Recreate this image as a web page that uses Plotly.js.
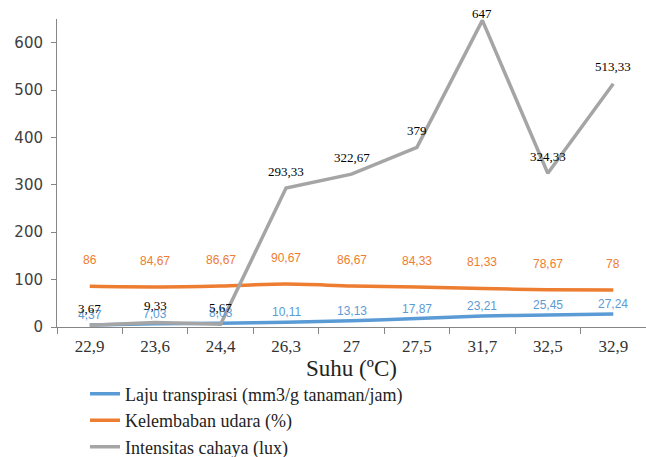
<!DOCTYPE html>
<html>
<head>
<meta charset="utf-8">
<script src="https://cdn.plot.ly/plotly-3.0.1.min.js"></script>
<style>
  html, body { margin: 0; padding: 0; background: #fff; }
  #chart { width: 646px; height: 457px; }
</style>
</head>
<body>
<div id="chart"></div>
<script>
const suhu = ["22,9", "23,6", "24,4", "26,3", "27", "27,5", "31,7", "32,5", "32,9"];
const lajuTranspirasi = [4.37, 7.03, 8.03, 10.11, 13.13, 17.87, 23.21, 25.45, 27.24];
const kelembabanUdara = [86, 84.67, 86.67, 90.67, 86.67, 84.33, 81.33, 78.67, 78];
const intensitasCahaya = [3.67, 9.33, 5.67, 293.33, 322.67, 379, 647, 324.33, 513.33];

const seriesNames = ["Laju transpirasi (mm3/g tanaman/jam)", "Kelembaban udara (%)", "Intensitas cahaya (lux)"];

const BLUE = "#5B9BD5", ORANGE = "#ED7D31", GRAY = "#A5A5A5";
const Y_MAX = 650;
const fmt = v => String(v).replace(".", ",");

const traces = [
  { x: suhu, y: lajuTranspirasi, name: seriesNames[0], type: "scatter", mode: "lines",
    line: { color: BLUE, width: 3.5, shape: "spline", smoothing: 0.8 } },
  { x: suhu, y: kelembabanUdara, name: seriesNames[1], type: "scatter", mode: "lines",
    line: { color: ORANGE, width: 3.5, shape: "spline", smoothing: 0.8 } },
  { x: suhu, y: intensitasCahaya, name: seriesNames[2], type: "scatter", mode: "lines",
    line: { color: GRAY, width: 3.5 } }
];

// data labels placed on the category axis by category index;
// a label that would leave the top of the chart is pulled down toward its point
function labels(ys, color, shift, family, size) {
  return ys.map((v, i) => ({
    x: i, y: v, xref: "x", yref: "y", text: fmt(v), showarrow: false,
    yanchor: "middle", yshift: Math.min(shift, (Y_MAX - v) * 0.47 + 6),
    font: { family: family, size: size, color: color }
  }));
}

const annotations = []
  .concat(labels(lajuTranspirasi, BLUE, 10, "Liberation Sans, Arial, sans-serif", 12))
  .concat(labels(kelembabanUdara, ORANGE, 26, "Liberation Sans, Arial, sans-serif", 12))
  .concat(labels(intensitasCahaya, "#000000", 17, "Liberation Serif, Times New Roman, serif", 13));

const layout = {
  width: 646, height: 457,
  margin: { l: 57, r: 0, t: 19, b: 130, autoexpand: false },
  paper_bgcolor: "#ffffff", plot_bgcolor: "#ffffff",
  showlegend: true,
  legend: {
    x: 0.0475, xanchor: "left", y: -0.158, yanchor: "top",
    orientation: "v", bgcolor: "rgba(0,0,0,0)",
    font: { family: "Liberation Serif, Times New Roman, serif", size: 18, color: "#222222" }
  },
  xaxis: {
    type: "category", range: [-0.5, suhu.length - 0.5], autorange: false,
    tickson: "boundaries", ticks: "outside", ticklen: 6, tickangle: 0,
    tickcolor: "#868686", showline: true, linecolor: "#868686", linewidth: 1,
    showgrid: false, zeroline: false, ticklabelstandoff: 4,
    tickfont: { family: "Liberation Serif, Times New Roman, serif", size: 17, color: "#333333" },
    title: { text: "Suhu (ºC)", standoff: 0,
      font: { family: "Liberation Serif, Times New Roman, serif", size: 23, color: "#222222" } },
    automargin: false
  },
  yaxis: {
    range: [0, Y_MAX], autorange: false, tickvals: [0, 100, 200, 300, 400, 500, 600],
    ticks: "outside", ticklen: 5, tickcolor: "#868686",
    showline: true, linecolor: "#868686", linewidth: 1,
    showgrid: false, zeroline: false,
    tickfont: { family: "DejaVu Sans, sans-serif", size: 15, color: "#404040" },
    ticklabelstandoff: 5
  },
  annotations: annotations
};

Plotly.newPlot("chart", traces, layout, { displayModeBar: false, staticPlot: true });
</script>
</body>
</html>
